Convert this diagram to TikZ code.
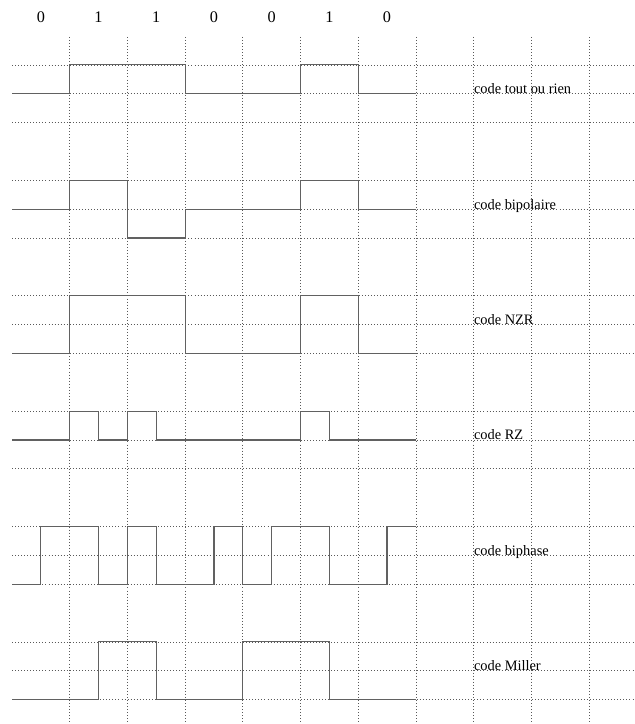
\documentclass[tikz,border=0pt]{standalone}
\usepackage{fontspec}
\setmainfont{Liberation Serif}
\begin{document}
\begin{tikzpicture}[x=1cm,y=1cm,
  gridline/.style={black!65, line width=0.35pt, dash pattern=on 0.45pt off 1.05pt},
  sig/.style={black!62, line width=0.55pt, line join=miter},
  lbl/.style={anchor=base west, inner sep=0pt, font=\fontsize{7.1}{8}\selectfont},
  bitlbl/.style={inner sep=0pt, font=\fontsize{8}{9}\selectfont}]
\useasboundingbox (-0.208,0) rectangle (10.797,-12.548);
% grid
\foreach \k in {0,...,5} {
  \foreach \d in {0,0.5,1} {
    \draw[gridline] (0,{-1.125-2*\k-\d}) -- (10.797,{-1.125-2*\k-\d});
  }
}
\foreach \x in {1,...,10} \draw[gridline] (\x,-0.64) -- (\x,-12.548);
% bits
\foreach \b [count=\i from 0] in {0,1,1,0,0,1,0}
  \node[bitlbl] (bit\i) at (\i+0.5,-0.29) {\b};
% tout ou rien
\draw[sig] (0,-1.625) -- (1,-1.625) -- (1,-1.125) -- (3,-1.125) -- (3,-1.625) -- (5,-1.625) -- (5,-1.125) -- (6,-1.125) -- (6,-1.625) -- (7,-1.625);
\node[lbl] (l1) at (8,-1.625) {code tout ou rien};
% bipolaire
\draw[sig] (0,-3.625) -- (1,-3.625) -- (1,-3.125) -- (2,-3.125) -- (2,-4.125) -- (3,-4.125) -- (3,-3.625) -- (5,-3.625) -- (5,-3.125) -- (6,-3.125) -- (6,-3.625) -- (7,-3.625);
\node[lbl] (l2) at (8,-3.625) {code bipolaire};
% NZR
\draw[sig] (0,-6.125) -- (1,-6.125) -- (1,-5.125) -- (3,-5.125) -- (3,-6.125) -- (5,-6.125) -- (5,-5.125) -- (6,-5.125) -- (6,-6.125) -- (7,-6.125);
\node[lbl] (l3) at (8,-5.625) {code NZR};
% RZ
\draw[sig] (0,-7.625) -- (1,-7.625) -- (1,-7.125) -- (1.5,-7.125) -- (1.5,-7.625) -- (2,-7.625) -- (2,-7.125) -- (2.5,-7.125) -- (2.5,-7.625) -- (5,-7.625) -- (5,-7.125) -- (5.5,-7.125) -- (5.5,-7.625) -- (7,-7.625);
\node[lbl] (l4) at (8,-7.625) {code RZ};
% biphase
\draw[sig] (0,-10.125) -- (0.5,-10.125) -- (0.5,-9.125) -- (1.5,-9.125) -- (1.5,-10.125) -- (2,-10.125) -- (2,-9.125) -- (2.5,-9.125) -- (2.5,-10.125) -- (3.5,-10.125) -- (3.5,-9.125) -- (4,-9.125) -- (4,-10.125) -- (4.5,-10.125) -- (4.5,-9.125) -- (5.5,-9.125) -- (5.5,-10.125) -- (6.5,-10.125) -- (6.5,-9.125) -- (7,-9.125);
\node[lbl] (l5) at (8,-9.625) {code biphase};
% Miller
\draw[sig] (0,-12.125) -- (1.5,-12.125) -- (1.5,-11.125) -- (2.5,-11.125) -- (2.5,-12.125) -- (4,-12.125) -- (4,-11.125) -- (5.5,-11.125) -- (5.5,-12.125) -- (7,-12.125);
\node[lbl] (l6) at (8,-11.625) {code Miller};
\end{tikzpicture}
\end{document}
